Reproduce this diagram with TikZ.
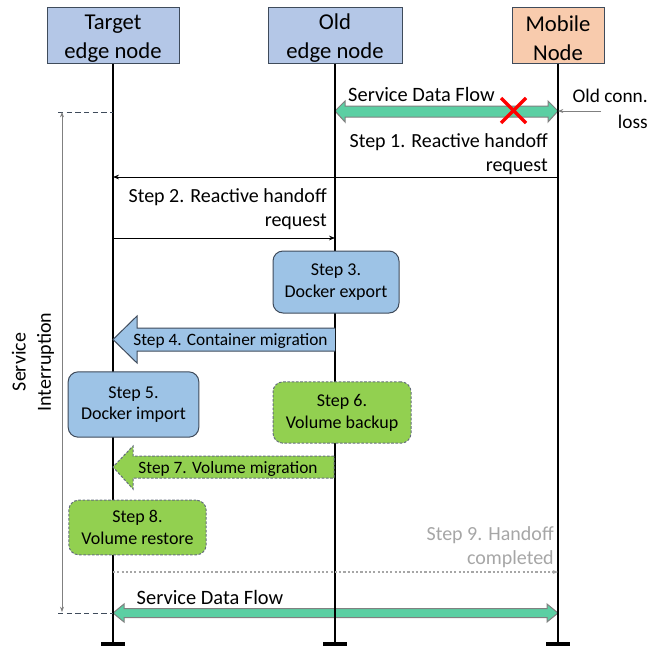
\documentclass[tikz,border=0pt]{standalone}
\usepackage{fontspec}
\setmainfont{Carlito}
\usetikzlibrary{arrows.meta}
\definecolor{hdrblue}{HTML}{B4C7E7}
\definecolor{hdrorange}{HTML}{F8CBAD}
\definecolor{stepblue}{HTML}{9DC3E6}
\definecolor{stepgreen}{HTML}{92D050}
\definecolor{flowgreen}{HTML}{5BCFA3}
\definecolor{edgegray}{HTML}{3F4B5B}
\definecolor{lightgray}{HTML}{A6A6A6}
\begin{document}
\begin{tikzpicture}[x=0.75pt,y=-0.75pt,
  hdr/.style={draw=edgegray,line width=0.75pt,minimum height=42pt,inner sep=0pt},
  hdrtxt/.style={align=center,font=\fontsize{17}{21.8}\selectfont,inner sep=0pt},
  life/.style={line width=1.6pt,black},
  endtick/.style={line width=2.4pt,black},
  bluebox/.style={draw=edgegray,fill=stepblue,rounded corners=7.5pt,line width=0.75pt,
    align=center,font=\fontsize{13.5}{16.3}\selectfont,inner sep=0pt},
  greenbox/.style={draw=edgegray!80,fill=stepgreen,rounded corners=7.5pt,line width=0.75pt,
    dash pattern=on 2pt off 1.2pt,align=center,font=\fontsize{13.5}{16.3}\selectfont,inner sep=0pt},
  msgtxt/.style={align=right,font=\fontsize{15}{18.5}\selectfont,inner sep=0pt},
  msg/.style={line width=0.6pt,-{Stealth[length=4.5pt,width=3.5pt]}},
  flow/.style={draw=gray,line width=0.75pt,fill=flowgreen},
  bigtxt/.style={font=\fontsize{13}{15}\selectfont,inner sep=0pt},
]
\useasboundingbox (0,0) rectangle (666,646);

% headers
\node[hdr,fill=hdrblue,minimum width=99pt] (tgt) at (113,35) {};
\node[hdr,fill=hdrblue,minimum width=100.5pt] (old) at (335,35) {};
\node[hdr,fill=hdrorange,minimum width=69pt] (mob) at (558,35) {};
\node[hdrtxt] (tgtL) at (113,38.5) {Target\\edge node};
\node[hdrtxt] (oldL) at (335,38.5) {Old\\edge node};
\node[hdrtxt] (mobL) at (558,38.5) {Mobile\\Node};

% lifeline ends
\coordinate (tE) at (113,644);
\coordinate (oE) at (335,644);
\coordinate (mE) at (558,644);

% named points on lifelines
\coordinate (o111) at (335,111); \coordinate (m111) at (558,111);
\coordinate (m177) at (558,177); \coordinate (t177) at (113,177);
\coordinate (t238) at (113,238); \coordinate (o238) at (335,238);
\coordinate (t572) at (113,572); \coordinate (m572) at (558,572);
\coordinate (t613) at (113,613); \coordinate (m613) at (558,613);
\coordinate (t112) at (113,112);

% top service data flow
\filldraw[flow] (335,111) -- (345,101) -- (345,106) -- (548,106) -- (548,101) -- (558,111)
  -- (548,122) -- (548,117) -- (345,117) -- (345,122) -- cycle;
\node[msgtxt,font=\fontsize{15.3}{18}\selectfont] (sdf1) at (421.5,94) {Service Data Flow};

% bottom service data flow
\filldraw[flow] (113,613) -- (124,604) -- (124,608.5) -- (547,608.5) -- (547,604) -- (558,613)
  -- (547,622) -- (547,617.5) -- (124,617.5) -- (124,622) -- cycle;
\node[msgtxt,font=\fontsize{15.3}{18}\selectfont] (sdf2) at (210,597) {Service Data Flow};

% lifelines
\draw[life] (tgt.south) -- (tE);
\draw[life] (old.south) -- (oE);
\draw[life] (mob.south) -- (mE);
\draw[endtick] ([xshift=-9pt]tE) -- ([xshift=9pt]tE);
\draw[endtick] ([xshift=-9pt]oE) -- ([xshift=9pt]oE);
\draw[endtick] ([xshift=-9pt]mE) -- ([xshift=9pt]mE);

\draw[red,line width=2.6pt] (501,98) -- (526,123) (501,123) -- (526,98);

% step boxes
\node[bluebox,minimum width=94.5pt,minimum height=46.5pt] (s3) at (336,282) {Step 3.\\Docker export};
\node[bluebox,minimum width=98pt,minimum height=49pt] (s5) at (133.5,404.5) {Step 5.\\Docker import};
\node[greenbox,minimum width=103.5pt,minimum height=46pt] (s6) at (342,412.5) {Step 6.\\Volume backup};
\node[greenbox,minimum width=103pt,minimum height=41pt] (s8) at (137.5,527.5) {Step 8.\\Volume restore};

% big arrows
\fill[stepblue] (335,328) -- (137,328) -- (137,316) -- (113,339.5) -- (137,363) -- (137,351) -- (335,351) -- cycle;
\draw[edgegray,line width=0.75pt] (335,328) -- (137,328) -- (137,316) -- (113,339.5) -- (137,363) -- (137,351) -- (335,351);
\node[bigtxt] (s4) at (230.5,341) {Step 4. Container migration};

\fill[stepgreen] (334,456) -- (133,456) -- (133,446) -- (113,467) -- (133,489) -- (133,478) -- (334,478) -- cycle;
\draw[edgegray!80,line width=0.75pt,dash pattern=on 2pt off 1.2pt] (334,456) -- (133,456) -- (133,446) -- (113,467) -- (133,489) -- (133,478) -- (334,478) -- cycle;
\node[bigtxt] (s7) at (228,469) {Step 7. Volume migration};

% old conn loss
\node[msgtxt,font=\fontsize{14.5}{19.5}\selectfont,anchor=east] (loss) at (648,109) {Old conn.\\loss};
\coordinate (lossS) at (601,111);
\draw[gray,line width=0.5pt,-{Stealth[length=4pt,width=3pt]}] (lossS) -- (m111);

% step 1
\node[msgtxt,anchor=east] (st1) at (548,154) {Step 1. Reactive handoff\\request};
\draw[msg] (m177) -- (t177);

% step 2
\node[msgtxt,anchor=east] (st2) at (327,209) {Step 2. Reactive handoff\\request};
\draw[msg] (t238) -- (o238);

% step 9
\node[msgtxt,anchor=east,text=lightgray] (st9) at (554,547) {Step 9. Handoff\\completed};
\draw[lightgray,line width=0.8pt,dash pattern=on 1.6pt off 1.6pt,-{Stealth[length=4pt,width=3pt]}] (t572) -- (m572);

% service interruption
\coordinate (siT) at (58,112);
\coordinate (siB) at (58,613);
\draw[edgegray,line width=0.75pt,dash pattern=on 4pt off 2.5pt] (siT) -- (t112);
\draw[edgegray,line width=0.75pt,dash pattern=on 4pt off 2.5pt] (siB) -- (t613);
\coordinate (vT) at (62,112);
\coordinate (vB) at (62,612);
\draw[gray,line width=0.5pt,{Stealth[length=4pt,width=3pt]}-{Stealth[length=4pt,width=3pt]}] (vT) -- (vB);
\node[rotate=90,align=center,font=\fontsize{15}{19}\selectfont,inner sep=0pt] (si) at (33,362) {Service\\Interruption};
\end{tikzpicture}
\end{document}
